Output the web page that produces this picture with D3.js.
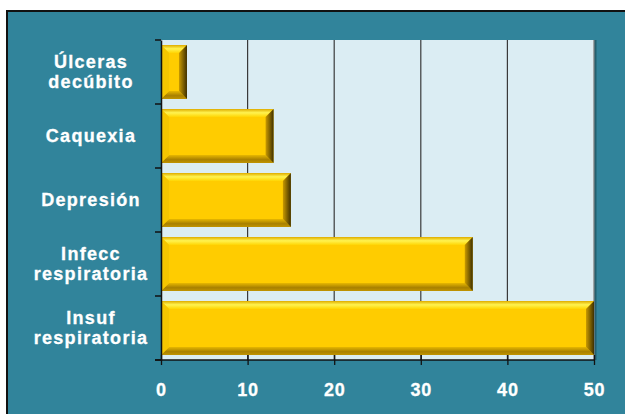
<!DOCTYPE html>
<html>
<head>
<meta charset="utf-8">
<script src="https://cdn.jsdelivr.net/npm/d3@7"></script>
<style>
  html, body { margin: 0; padding: 0; background: #fff; }
  svg { display: block; }
  text { font-family: Arial, "Liberation Sans", sans-serif; font-weight: bold; fill: #fff; }
</style>
</head>
<body>
<svg id="chart" width="625" height="414"></svg>
<script>
const categories = [
  ['Úlceras', 'decúbito'],
  ['Caquexia'],
  ['Depresión'],
  ['Infecc', 'respiratoria'],
  ['Insuf', 'respiratoria']
]
const values = [3, 13, 15, 36, 50]
const xTicks = [0, 10, 20, 30, 40, 50]

const svg = d3.select('#chart')
const margin = { left: 161, top: 40, right: 31, bottom: 54 }
const W = 625, H = 414
const iw = W - margin.left - margin.right
const ih = H - margin.top - margin.bottom

// frame
svg.append('rect').attr('x', 7).attr('y', 11).attr('width', W).attr('height', H)
  .attr('fill', '#31849B').attr('stroke', '#111').attr('stroke-width', 2)

const g = svg.append('g').attr('transform', `translate(${margin.left},${margin.top})`)

const x = d3.scaleLinear().domain([0, 50]).range([0, iw])
const y = d3.scaleBand().domain(d3.range(categories.length)).range([0, ih])
  .paddingInner(0.16).paddingOuter(0.08)
const yBand = d3.scaleBand().domain(d3.range(categories.length)).range([0, ih])

// plot area
g.append('rect').attr('width', iw).attr('height', ih).attr('fill', '#DBEDF3')
g.append('line').attr('x1', iw + 1.5).attr('x2', iw + 1.5).attr('y1', 0).attr('y2', ih)
  .attr('stroke', '#24606f').attr('stroke-width', 2)

// gridlines
g.selectAll('.grid').data(xTicks.slice(1)).join('line')
  .attr('class', 'grid')
  .attr('x1', d => x(d)).attr('x2', d => x(d))
  .attr('y1', 0).attr('y2', ih)
  .attr('stroke', (d, i) => i === xTicks.length - 2 ? '#777' : '#3a3a3a')
  .attr('stroke-width', 1.2)

// bar gradients
const defs = svg.append('defs')
const gr = defs.append('linearGradient').attr('id', 'rightEdge').attr('x1', 0).attr('x2', 1).attr('y1', 0).attr('y2', 0)
gr.append('stop').attr('offset', 0).attr('stop-color', '#c99a00')
gr.append('stop').attr('offset', 1).attr('stop-color', '#3f3000')
const gt = defs.append('linearGradient').attr('id', 'topEdge').attr('x1', 0).attr('x2', 0).attr('y1', 0).attr('y2', 1)
gt.append('stop').attr('offset', 0).attr('stop-color', '#e0ae00')
gt.append('stop').attr('offset', 0.45).attr('stop-color', '#fff350')
gt.append('stop').attr('offset', 1).attr('stop-color', '#ffd400')
const gb = defs.append('linearGradient').attr('id', 'botEdge').attr('x1', 0).attr('x2', 0).attr('y1', 0).attr('y2', 1)
gb.append('stop').attr('offset', 0).attr('stop-color', '#e8b800')
gb.append('stop').attr('offset', 0.6).attr('stop-color', '#a88000')
gb.append('stop').attr('offset', 1).attr('stop-color', '#c09400')

const bars = g.selectAll('.bar').data(values).join('g').attr('class', 'bar')
const bv = 8
bars.append('rect')
  .attr('x', 0).attr('y', (d, i) => y(i))
  .attr('width', d => x(d)).attr('height', y.bandwidth())
  .attr('fill', '#FFCC00')
// top bevel
bars.append('polygon').attr('fill', 'url(#topEdge)')
  .attr('points', (d, i) => {
    const x1 = x(d), y0 = y(i), b = Math.min(bv, x1 / 2)
    return `0,${y0} ${x1},${y0} ${x1 - b},${y0 + bv} ${b},${y0 + bv}`
  })
// bottom bevel
bars.append('polygon').attr('fill', 'url(#botEdge)')
  .attr('points', (d, i) => {
    const x1 = x(d), y1 = y(i) + y.bandwidth(), b = Math.min(bv, x1 / 2)
    return `0,${y1} ${x1},${y1} ${x1 - b},${y1 - bv} ${b},${y1 - bv}`
  })
// left bevel
bars.append('polygon').attr('fill', '#f5c600')
  .attr('points', (d, i) => {
    const y0 = y(i), y1 = y0 + y.bandwidth(), b = Math.min(bv, x(d) / 2)
    return `0,${y0} ${b},${y0 + bv} ${b},${y1 - bv} 0,${y1}`
  })
// right bevel
bars.append('polygon').attr('fill', 'url(#rightEdge)')
  .attr('points', (d, i) => {
    const x1 = x(d), y0 = y(i), y1 = y0 + y.bandwidth(), b = Math.min(bv, x1 / 2)
    return `${x1},${y0} ${x1},${y1} ${x1 - b},${y1 - bv} ${x1 - b},${y0 + bv}`
  })

// y axis
const yAxis = g.append('g')
  .call(d3.axisLeft(yBand).tickValues([]).tickSizeOuter(0))
yAxis.select('.domain').attr('stroke', '#111').attr('stroke-width', 1.5)
g.selectAll('.ytick').data(d3.range(categories.length + 1)).join('line')
  .attr('class', 'ytick')
  .attr('x1', -6).attr('x2', 0)
  .attr('y1', i => i === categories.length ? ih : yBand(i))
  .attr('y2', i => i === categories.length ? ih : yBand(i))
  .attr('stroke', '#111').attr('stroke-width', 1.5)

// category labels
const labels = g.selectAll('.cat').data(categories).join('text')
  .attr('class', 'cat')
  .attr('text-anchor', 'middle')
  .attr('font-size', 18)
  .attr('letter-spacing', 1.3)
  .attr('stroke', '#fff').attr('stroke-width', 0.3)
labels.each(function (lines, i) {
  const cy = yBand(i) + yBand.bandwidth() / 2
  const t = d3.select(this)
  lines.forEach((s, k) => {
    t.append('tspan')
      .attr('x', -70)
      .attr('y', cy + (k - (lines.length - 1) / 2) * 20)
      .attr('dy', '0.36em')
      .text(s)
  })
})

// x axis
const xAxis = g.append('g').attr('transform', `translate(0,${ih})`)
  .call(d3.axisBottom(x).tickValues(xTicks).tickSize(5).tickSizeOuter(0).tickPadding(16))
xAxis.select('.domain').attr('stroke', '#111').attr('stroke-width', 1.5).attr('d', `M-6,0H${iw}`)
xAxis.selectAll('.tick line').attr('stroke', '#111').attr('stroke-width', 1.3).attr('y1', -5)
xAxis.selectAll('.tick text')
  .attr('font-size', 18).attr('letter-spacing', 0.8).attr('fill', '#fff')
  .attr('stroke', '#fff').attr('stroke-width', 0.3)
  .attr('dy', '0.85em')
</script>
</body>
</html>
